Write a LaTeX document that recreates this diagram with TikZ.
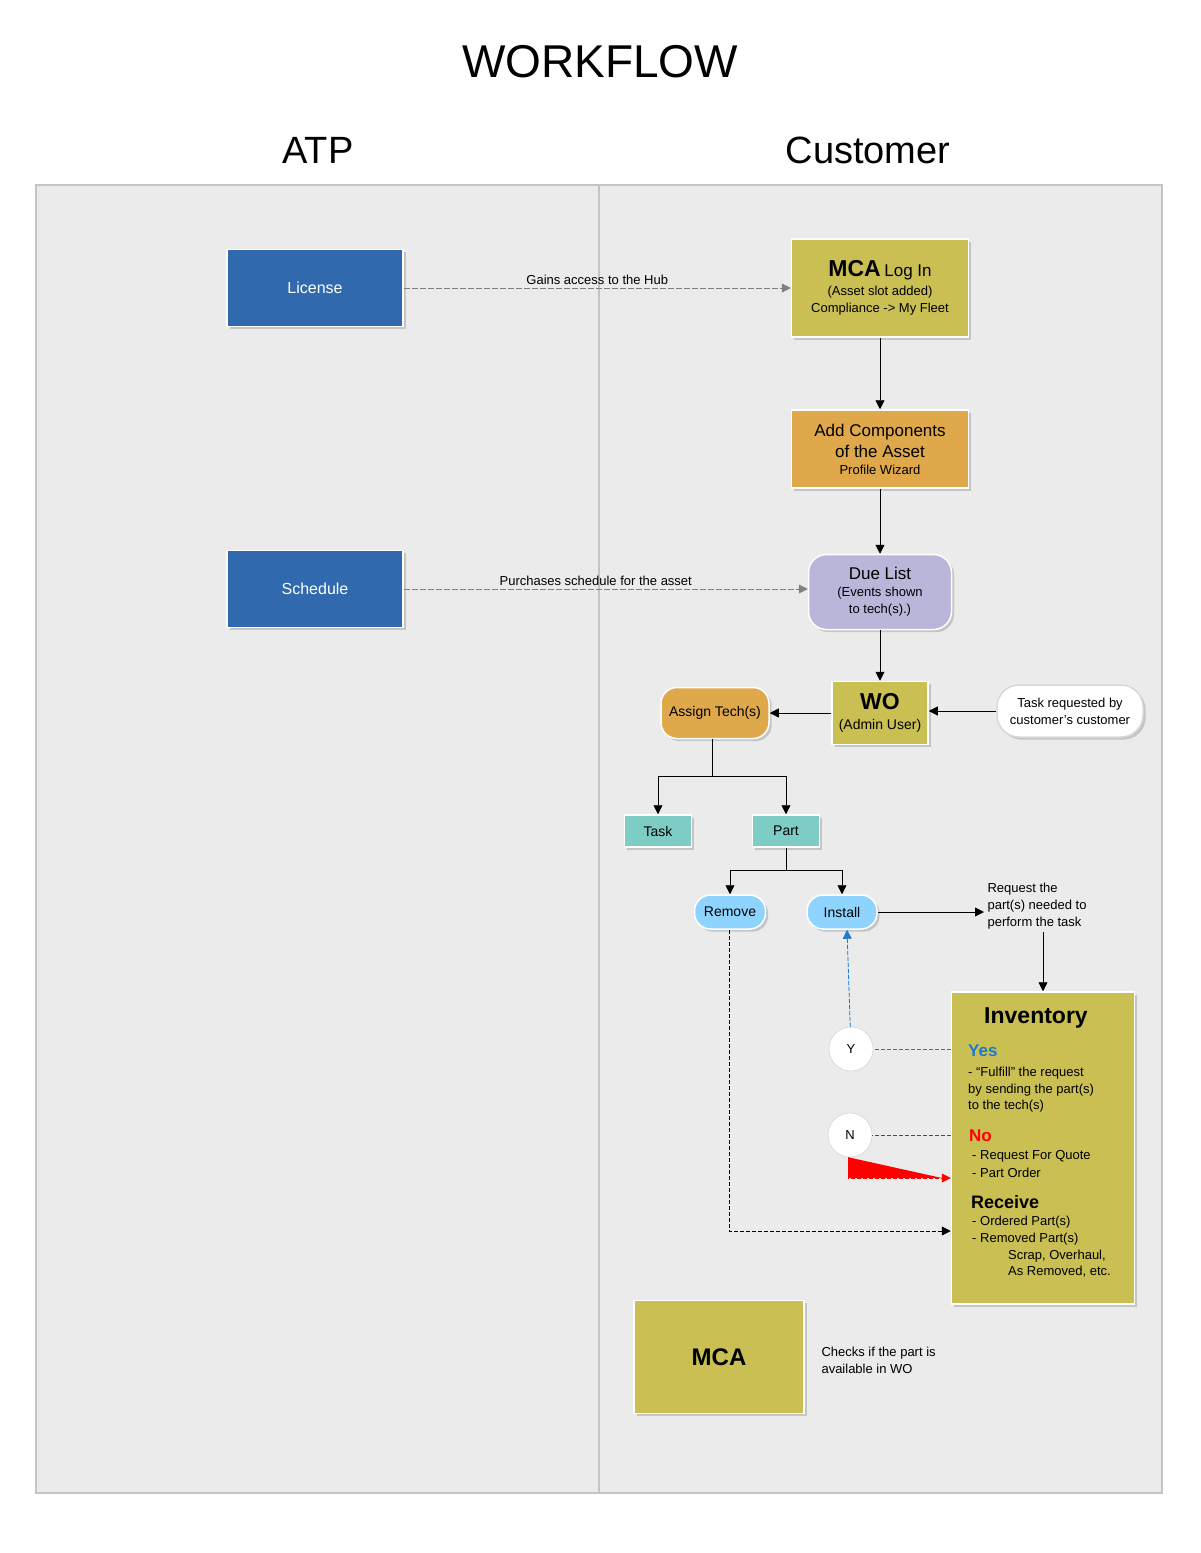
\documentclass[tikz,border=0pt]{standalone}
\usepackage{fontspec}
\setmainfont{Liberation Sans}
\usetikzlibrary{arrows.meta,positioning,shadows}
\definecolor{panel}{HTML}{EBEBEB}
\definecolor{panelline}{HTML}{C4C4C4}
\definecolor{atpblue}{HTML}{3169AE}
\definecolor{mcaolive}{HTML}{C9BF52}
\definecolor{orangebox}{HTML}{DFA84A}
\definecolor{duelilac}{HTML}{B9B6DA}
\definecolor{tealbox}{HTML}{7ECDC4}
\definecolor{skyblue}{HTML}{8FD4FE}
\definecolor{yesblue}{HTML}{1A7BD0}
\newcommand{\fs}[2]{\fontsize{#1}{#2}\selectfont}
\tikzset{
  box/.style={draw=white, line width=1.5pt, drop shadow={opacity=0.35}, align=center, inner sep=2pt},
  atpbox/.style={box, fill=atpblue, text=white, minimum width=176pt, minimum height=77pt, font=\fs{16}{18}},
  olivebox/.style={box, fill=mcaolive},
  pill/.style={box, rounded corners=16pt},
  flow/.style={-{Triangle[length=9pt,width=9pt]}, line width=0.8pt},
  hub/.style={flow, draw=gray, dash pattern=on 6pt off 2pt},
  note/.style={font=\fs{13}{17}, align=left},
  invline/.style={anchor=west, inner sep=0pt, font=\fs{13}{16}},
  yn/.style={circle, draw=gray!40, fill=white, minimum size=44pt, font=\fs{13}{15}}
}
\begin{document}
\begin{tikzpicture}[x=1pt, y=-1pt]
\useasboundingbox[fill=white] (0,0) rectangle (1200,1553);
\node (title) at (600,62) {\fs{46}{50}WORKFLOW};
\node (atp) at (318,150) {\fs{38}{40}ATP};
\node (cust) at (868,150) {\fs{38}{40}Customer};
\draw[panelline, fill=panel, line width=1.5pt] (36,185) rectangle (1162,1493);
\draw[panelline, line width=1.5pt] (599,185) -- (599,1493);

% ATP side
\node[atpbox] (license) at (315,288) {License};
\node[atpbox] (schedule) at (315,589) {Schedule};

% Customer side
\node[olivebox, minimum width=177pt, minimum height=98pt, font=\fs{13}{17}] (mca) at (880,288)
  {{\fs{23}{24}\bfseries MCA} {\fs{17}{19}Log In}\\[2pt]
   (Asset slot added)\\ Compliance -> My Fleet};
\node[box, fill=orangebox, minimum width=177pt, minimum height=78pt, font=\fs{17}{21}] (addcomp) at (880,449)
  {Add Components\\ of the Asset\\[-4pt] {\fs{13}{15}Profile Wizard}};
\node[pill, fill=duelilac, minimum width=143pt, minimum height=75pt, rounded corners=18pt, font=\fs{13}{17}] (duelist) at (880,592)
  {{\fs{17}{19}Due List}\\ (Events shown\\ to tech(s).)};
\node[olivebox, minimum width=96pt, minimum height=63pt, font=\fs{14}{20}] (wo) at (880,713)
  {{\fs{23}{24}\bfseries WO}\\ (Admin User)};
\node[pill, draw=gray!30, fill=white, minimum width=146pt, minimum height=52pt, rounded corners=22pt, drop shadow={opacity=0}, font=\fs{13}{17}] (taskreq) at (1070,711)
  {Task requested by\\ customer's customer};
\node[pill, fill=orangebox, minimum width=108pt, minimum height=51pt, font=\fs{14}{16}] (assign) at (715,713) {Assign Tech(s)};
\node[box, fill=tealbox, minimum width=67pt, minimum height=32pt, font=\fs{14}{16}] (task) at (658,831) {Task};
\node[box, fill=tealbox, minimum width=67pt, minimum height=32pt, font=\fs{14}{16}] (part) at (786,831) {Part};
\node[pill, fill=skyblue, minimum width=71pt, minimum height=34pt, font=\fs{14}{16}, drop shadow={opacity=0}] (remove) at (730,912) {Remove};
\node[pill, fill=skyblue, minimum width=70pt, minimum height=34pt, font=\fs{14}{16}, drop shadow={opacity=0}] (install) at (842,912) {Install};
\node[note, anchor=west] (reqtext) at (984,906) {Request the\\ part(s) needed to\\ perform the task};
\node[olivebox, minimum width=183pt, minimum height=312pt] (inv) at (1043,1148) {};
\node[inner sep=0pt, font=\fs{23}{26}\bfseries] (invtitle) at (1036,1018) {Inventory};
\node[invline, font=\fs{17}{20}\bfseries, text=yesblue] (yeshead) at (968,1051) {Yes};
\node[invline] (yes1) at (968,1073) {- ``Fulfill'' the request};
\node[invline] (yes2) at (968,1090) {by sending the part(s)};
\node[invline] (yes3) at (968,1106) {to the tech(s)};
\node[invline, font=\fs{17}{20}\bfseries, text=red] (nohead) at (969,1136) {No};
\node[invline] (no1) at (972,1156) {- Request For Quote};
\node[invline] (no2) at (972,1173) {- Part Order};
\node[invline, font=\fs{18}{20}\bfseries] (rcvhead) at (971,1202) {Receive};
\node[invline] (rcv1) at (972,1222) {- Ordered Part(s)};
\node[invline] (rcv2) at (972,1239) {- Removed Part(s)};
\node[invline] (rcv3) at (1008,1256) {Scrap, Overhaul,};
\node[invline] (rcv4) at (1008,1272) {As Removed, etc.};
\node[yn] (yes) at (851,1049) {Y};
\node[yn] (no) at (850,1135) {N};
\node[olivebox, minimum width=170pt, minimum height=113pt] (mcab) at (719,1357) {\fs{24}{26}\bfseries MCA};
\node[note, anchor=west] (checks) at (818,1360) {Checks if the part is\\ available in WO};

% connectors
\draw[hub] (license) -- node[above, font=\fs{13}{15}, text=black] {Gains access to the Hub} (mca);
\draw[hub] (schedule) -- node[above, font=\fs{13}{15}, text=black, xshift=-10pt] {Purchases schedule for the asset} (duelist.west |- schedule);
\draw[flow] (mca) -- (addcomp);
\draw[flow] (addcomp) -- (duelist);
\draw[flow] (duelist) -- (wo);
\draw[flow] (wo) -- (assign);
\draw[flow] (taskreq) -- (wo.east |- taskreq);
\coordinate (split1) at (712,776);
\draw[line width=0.8pt] (assign.south -| split1) -- (split1);
\draw[flow] (split1) -| (task);
\draw[flow] (split1) -| (part);
\coordinate (split2) at (786,870);
\draw[line width=0.8pt] (part) -- (split2);
\draw[flow] (split2) -| (remove);
\draw[flow] (split2) -| (install);
\draw[flow] (install) -- (reqtext.west |- install);
\coordinate (reqdown) at (1043,932);
\draw[flow] (reqdown) -- (inv.north -| reqdown);
\draw[draw=yesblue, line width=1pt, dash pattern=on 4pt off 2pt] (inv.west |- yes) -- (yes);
\draw[flow, draw=yesblue, fill=yesblue, dash pattern=on 4pt off 2pt] (yes) -- ([xshift=5pt]install.south);
\draw[draw=red, line width=1pt, dash pattern=on 4pt off 2pt] (inv.west |- no) -- (no);
\coordinate (nturn) at (848,1178);
\draw[flow, draw=red, fill=red, dash pattern=on 4pt off 2pt] (no.south -| nturn) -- (nturn) -- (inv.west |- nturn);
\coordinate (rturn) at (729,1231);
\draw[flow, dash pattern=on 4pt off 2pt] (remove.south -| rturn) -- (rturn) -- (inv.west |- rturn);
\end{tikzpicture}
\end{document}
